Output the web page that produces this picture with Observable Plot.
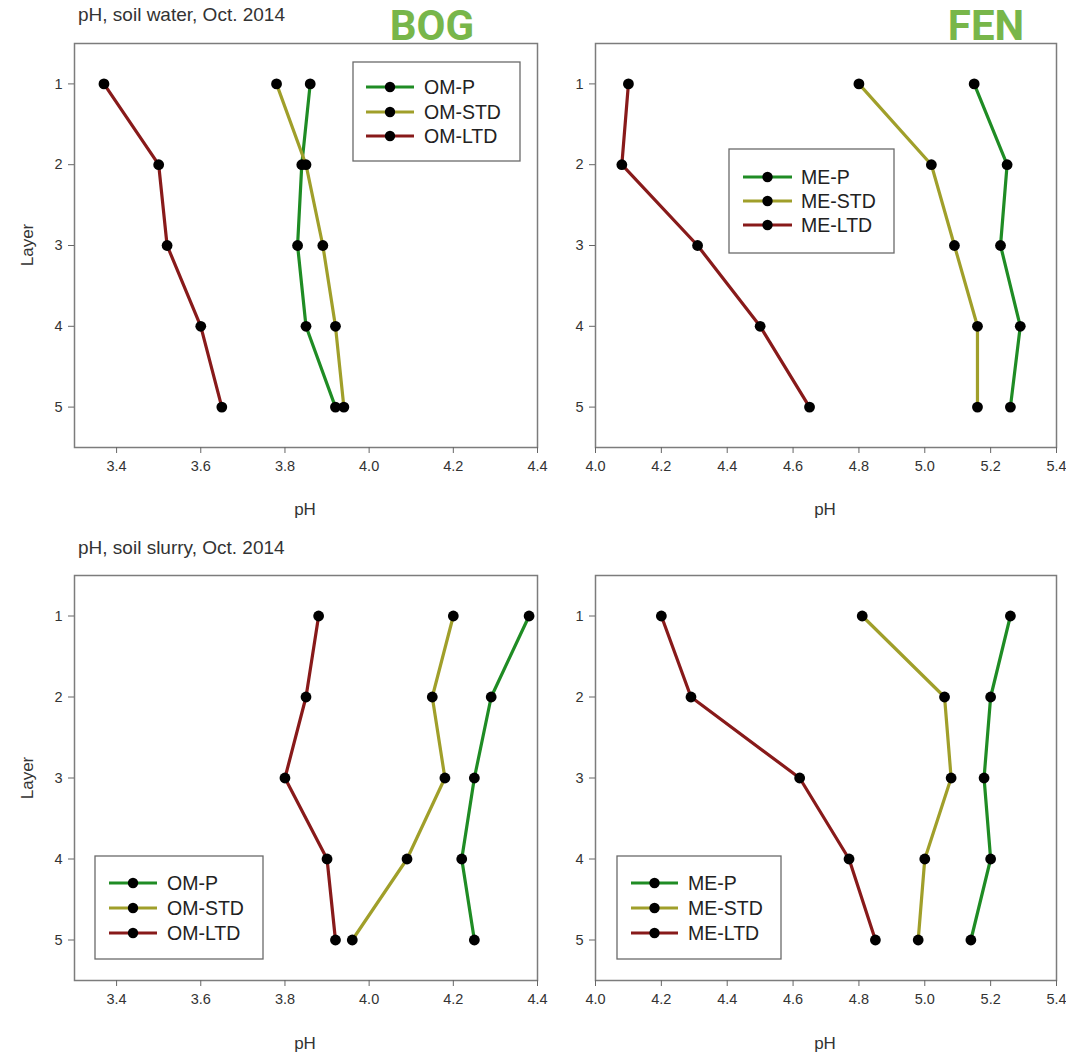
<!DOCTYPE html>
<html>
<head>
<meta charset="utf-8">
<script src="https://cdn.jsdelivr.net/npm/d3@7"></script>
<script src="https://cdn.jsdelivr.net/npm/@observablehq/plot@0.6"></script>
<style>
  html, body { margin: 0; padding: 0; background: #fff; }
  #root { position: relative; width: 1066px; height: 1057px; background: #fff; overflow: hidden;
          font-family: "Liberation Sans", Arial, sans-serif; color: #333; }
  .title { font-size: 19px; color: #333; white-space: nowrap; line-height: 1.2; }
  .axlab { font-size: 17px; color: #333; white-space: nowrap; line-height: 1.2; }
</style>
</head>
<body>
<div id="root"></div>
<script>
// ---------- data ----------
const layers = [1, 2, 3, 4, 5];
const bogSeries = ["OM-P", "OM-STD", "OM-LTD"];
const fenSeries = ["ME-P", "ME-STD", "ME-LTD"];
const seriesColors = ["#1f8c24", "#a09f2a", "#881a1a"];

const bogTicks = [3.4, 3.6, 3.8, 4.0, 4.2, 4.4];
const fenTicks = [4.0, 4.2, 4.4, 4.6, 4.8, 5.0, 5.2, 5.4];

// soil water, bog
const waterBogP   = [3.86, 3.84, 3.83, 3.85, 3.92];
const waterBogSTD = [3.78, 3.85, 3.89, 3.92, 3.94];
const waterBogLTD = [3.37, 3.50, 3.52, 3.60, 3.65];
// soil water, fen
const waterFenP   = [5.15, 5.25, 5.23, 5.29, 5.26];
const waterFenSTD = [4.80, 5.02, 5.09, 5.16, 5.16];
const waterFenLTD = [4.10, 4.08, 4.31, 4.50, 4.65];
// soil slurry, bog
const slurryBogP   = [4.38, 4.29, 4.25, 4.22, 4.25];
const slurryBogSTD = [4.20, 4.15, 4.18, 4.09, 3.96];
const slurryBogLTD = [3.88, 3.85, 3.80, 3.90, 3.92];
// soil slurry, fen
const slurryFenP   = [5.26, 5.20, 5.18, 5.20, 5.14];
const slurryFenSTD = [4.81, 5.06, 5.08, 5.00, 4.98];
const slurryFenLTD = [4.20, 4.29, 4.62, 4.77, 4.85];

// ---------- helpers ----------
function rowsOf(names, arrays) {
  const rows = [];
  names.forEach((s, i) => arrays[i].forEach((v, j) => rows.push({series: s, layer: layers[j], ph: v})));
  return rows;
}

const root = document.getElementById("root");

function place(el, left, top) {
  el.style.position = "absolute";
  el.style.left = left + "px";
  el.style.top = top + "px";
  root.appendChild(el);
  return el;
}

function panel(o) {
  const rows = rowsOf(o.series, o.values);
  const chart = Plot.plot({
    width: o.width, height: o.height,
    marginLeft: o.mL, marginRight: o.mR, marginTop: o.mT, marginBottom: o.mB,
    style: {fontFamily: '"Liberation Sans", Arial, sans-serif', fontSize: "14.5px", color: "#333", background: "transparent", overflow: "visible"},
    x: {domain: o.domain, label: null},
    y: {domain: [0.5, 5.5], reverse: true, label: null},
    color: {domain: o.series, range: seriesColors},
    marks: [
      Plot.frame({stroke: "#7c7c7c", strokeWidth: 1.5}),
      Plot.axisX({ticks: o.ticks, tickFormat: d3.format(".1f"), tickSize: 6, tickPadding: 7, fontSize: 14.5, stroke: "#666", fill: "#333", label: null}),
      Plot.axisY({ticks: layers, tickFormat: d3.format("d"), tickSize: 6, tickPadding: 6, fontSize: 14.5, stroke: "#666", fill: "#333", label: null}),
      Plot.line(rows, {x: "ph", y: "layer", z: "series", stroke: "series", strokeWidth: 3.2}),
      Plot.dot(rows, {x: "ph", y: "layer", r: 5.4, fill: "#000", stroke: "none"})
    ]
  });
  place(chart, o.left, o.top);
}

// ---------- panels ----------
panel({left: 0, top: 30, width: 545, height: 497, mL: 74, mR: 8, mT: 13, mB: 80,
       domain: [3.3, 4.4], ticks: bogTicks, series: bogSeries, values: [waterBogP, waterBogSTD, waterBogLTD]});
panel({left: 545, top: 30, width: 521, height: 497, mL: 50, mR: 10, mT: 13, mB: 80,
       domain: [4.0, 5.4], ticks: fenTicks, series: fenSeries, values: [waterFenP, waterFenSTD, waterFenLTD]});
panel({left: 0, top: 560, width: 545, height: 497, mL: 74, mR: 8, mT: 15, mB: 77,
       domain: [3.3, 4.4], ticks: bogTicks, series: bogSeries, values: [slurryBogP, slurryBogSTD, slurryBogLTD]});
panel({left: 545, top: 560, width: 521, height: 497, mL: 50, mR: 10, mT: 15, mB: 77,
       domain: [4.0, 5.4], ticks: fenTicks, series: fenSeries, values: [slurryFenP, slurryFenSTD, slurryFenLTD]});

// ---------- texts ----------
function text(str, cls, left, top) {
  const d = document.createElement("div");
  d.className = cls;
  d.textContent = str;
  place(d, left, top);
  return d;
}
text("pH, soil water, Oct. 2014", "title", 78, 4);
text("pH, soil slurry, Oct. 2014", "title", 78, 537);

// axis titles (centered)
function centered(str, cx, cy, rotate) {
  const d = text(str, "axlab", cx, cy);
  d.style.transform = "translate(-50%, -50%)" + (rotate ? " rotate(-90deg)" : "");
  return d;
}
centered("pH", 305, 510);
centered("pH", 825, 510);
centered("pH", 305, 1044);
centered("pH", 825, 1044);
centered("Layer", 28, 245, true);
centered("Layer", 28, 778, true);

// ---------- overlay: site labels + legends ----------
const overlay = d3.select(root).append("svg")
  .attr("width", 1066).attr("height", 1057)
  .style("position", "absolute").style("left", 0).style("top", 0).style("pointer-events", "none");

overlay.append("text").attr("x", 432).attr("y", 40).attr("text-anchor", "middle")
  .attr("font-family", "Roboto, sans-serif").attr("font-weight", 700).attr("font-size", 42)
  .attr("fill", "#78b64a").text("BOG");
overlay.append("text").attr("x", 986).attr("y", 40).attr("text-anchor", "middle")
  .attr("font-family", "Roboto, sans-serif").attr("font-weight", 700).attr("font-size", 42)
  .attr("fill", "#78b64a").text("FEN");

function legend(names, box, rowsY, sx1, sx2, tx) {
  const g = overlay.append("g");
  g.append("rect").attr("x", box[0]).attr("y", box[1]).attr("width", box[2] - box[0]).attr("height", box[3] - box[1])
    .attr("fill", "#fff").attr("stroke", "#6a6a6a").attr("stroke-width", 1.3);
  names.forEach((n, i) => {
    const y = rowsY[i];
    g.append("line").attr("x1", sx1).attr("x2", sx2).attr("y1", y).attr("y2", y)
      .attr("stroke", seriesColors[i]).attr("stroke-width", 3.2);
    g.append("circle").attr("cx", (sx1 + sx2) / 2).attr("cy", y).attr("r", 5.2).attr("fill", "#000");
    g.append("text").attr("x", tx).attr("y", y).attr("dy", "0.36em")
      .attr("font-family", '"Liberation Sans", Arial, sans-serif').attr("font-size", 19.5).attr("fill", "#222").text(n);
  });
}
legend(bogSeries, [353, 62, 520, 161], [87, 112, 136], 366, 414, 424);
legend(fenSeries, [729, 149, 894, 253], [177, 201, 225], 743, 792, 801);
legend(bogSeries, [95, 856, 263, 959], [883, 908, 933], 109, 157, 167);
legend(fenSeries, [617, 856, 781, 959], [883, 908, 933], 631, 678, 688);
</script>
</body>
</html>
